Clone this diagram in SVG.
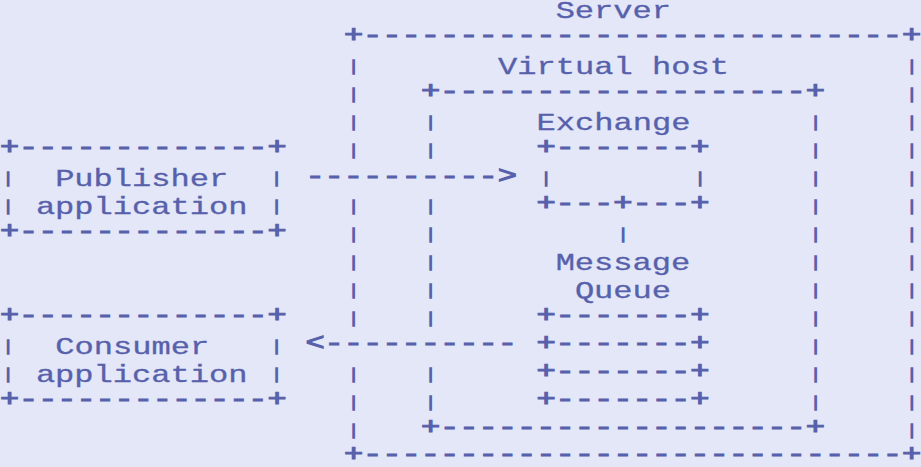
<svg xmlns="http://www.w3.org/2000/svg" width="921" height="467" viewBox="0 0 921 467">
<style>
text { font-family: "Liberation Mono", "DejaVu Sans Mono", monospace; font-size: 24px; fill: #5761AB; stroke: #5761AB; stroke-width: 0.3px; }
.b { stroke-width: 1.1px; }
.p { font-size: 14.5px; stroke-width: 1.5px; text-anchor: middle; }
</style>
<rect width="921" height="467" fill="#E3E7F8"/>
<g id="server">
<text x="555.625" y="17.5" textLength="115.5" lengthAdjust="spacingAndGlyphs">Server</text>
<text class="b" x="343.875" y="42" textLength="577.5" lengthAdjust="spacingAndGlyphs">+----------------------------+</text>
<text class="b" x="343.875" y="461" textLength="577.5" lengthAdjust="spacingAndGlyphs">+----------------------------+</text>
<text class="p" x="353.5" y="70.5">|</text><text class="p" x="911.75" y="70.5">|</text>
<text class="p" x="353.5" y="98.5">|</text><text class="p" x="911.75" y="98.5">|</text>
<text class="p" x="353.5" y="126.5">|</text><text class="p" x="911.75" y="126.5">|</text>
<text class="p" x="353.5" y="154.5">|</text><text class="p" x="911.75" y="154.5">|</text>
<text class="p" x="911.75" y="182.5">|</text>
<text class="p" x="353.5" y="210.5">|</text><text class="p" x="911.75" y="210.5">|</text>
<text class="p" x="353.5" y="238.5">|</text><text class="p" x="911.75" y="238.5">|</text>
<text class="p" x="353.5" y="266.5">|</text><text class="p" x="911.75" y="266.5">|</text>
<text class="p" x="353.5" y="294.5">|</text><text class="p" x="911.75" y="294.5">|</text>
<text class="p" x="353.5" y="322.5">|</text><text class="p" x="911.75" y="322.5">|</text>
<text class="p" x="911.75" y="350.5">|</text>
<text class="p" x="353.5" y="378.5">|</text><text class="p" x="911.75" y="378.5">|</text>
<text class="p" x="353.5" y="406.5">|</text><text class="p" x="911.75" y="406.5">|</text>
<text class="p" x="353.5" y="434.5">|</text><text class="p" x="911.75" y="434.5">|</text>
</g>
<g id="virtual-host">
<text x="497.875" y="73.5" textLength="231" lengthAdjust="spacingAndGlyphs">Virtual host</text>
<text class="b" x="420.875" y="98" textLength="404.25" lengthAdjust="spacingAndGlyphs">+-------------------+</text>
<text class="b" x="420.875" y="434" textLength="404.25" lengthAdjust="spacingAndGlyphs">+-------------------+</text>
<text class="p" x="430.5" y="126.5">|</text><text class="p" x="815.5" y="126.5">|</text>
<text class="p" x="430.5" y="154.5">|</text><text class="p" x="815.5" y="154.5">|</text>
<text class="p" x="815.5" y="182.5">|</text>
<text class="p" x="430.5" y="210.5">|</text><text class="p" x="815.5" y="210.5">|</text>
<text class="p" x="430.5" y="238.5">|</text><text class="p" x="815.5" y="238.5">|</text>
<text class="p" x="430.5" y="266.5">|</text><text class="p" x="815.5" y="266.5">|</text>
<text class="p" x="430.5" y="294.5">|</text><text class="p" x="815.5" y="294.5">|</text>
<text class="p" x="430.5" y="322.5">|</text><text class="p" x="815.5" y="322.5">|</text>
<text class="p" x="815.5" y="350.5">|</text>
<text class="p" x="430.5" y="378.5">|</text><text class="p" x="815.5" y="378.5">|</text>
<text class="p" x="430.5" y="406.5">|</text><text class="p" x="815.5" y="406.5">|</text>
</g>
<g id="exchange">
<text x="536.375" y="129.5" textLength="154" lengthAdjust="spacingAndGlyphs">Exchange</text>
<text class="b" x="536.375" y="154" textLength="173.25" lengthAdjust="spacingAndGlyphs">+-------+</text>
<text class="p" x="546" y="182.5">|</text><text class="p" x="700" y="182.5">|</text>
<text class="b" x="536.375" y="210" textLength="173.25" lengthAdjust="spacingAndGlyphs">+---+---+</text>
</g>
<g id="message-queue">
<text x="555.625" y="269.5" textLength="134.75" lengthAdjust="spacingAndGlyphs">Message</text>
<text x="574.875" y="297.5" textLength="96.25" lengthAdjust="spacingAndGlyphs">Queue</text>
<text class="b" x="536.375" y="322" textLength="173.25" lengthAdjust="spacingAndGlyphs">+-------+</text>
<text class="b" x="536.375" y="350" textLength="173.25" lengthAdjust="spacingAndGlyphs">+-------+</text>
<text class="b" x="536.375" y="378" textLength="173.25" lengthAdjust="spacingAndGlyphs">+-------+</text>
<text class="b" x="536.375" y="406" textLength="173.25" lengthAdjust="spacingAndGlyphs">+-------+</text>
</g>
<g id="publisher">
<text class="b" x="0" y="154" textLength="286.5" lengthAdjust="spacingAndGlyphs">+-------------+</text>
<text class="p" x="8" y="182.5">|</text><text class="p" x="276.5" y="182.5">|</text>
<text x="55.125" y="185.5" textLength="173.25" lengthAdjust="spacingAndGlyphs">Publisher</text>
<text class="p" x="8" y="210.5">|</text><text class="p" x="276.5" y="210.5">|</text>
<text x="35.875" y="213.5" textLength="211.75" lengthAdjust="spacingAndGlyphs">application</text>
<text class="b" x="0" y="238" textLength="286.5" lengthAdjust="spacingAndGlyphs">+-------------+</text>
</g>
<g id="consumer">
<text class="b" x="0" y="322" textLength="286.5" lengthAdjust="spacingAndGlyphs">+-------------+</text>
<text class="p" x="8" y="350.5">|</text><text class="p" x="276.5" y="350.5">|</text>
<text x="55.125" y="353.5" textLength="154" lengthAdjust="spacingAndGlyphs">Consumer</text>
<text class="p" x="8" y="378.5">|</text><text class="p" x="276.5" y="378.5">|</text>
<text x="35.875" y="381.5" textLength="211.75" lengthAdjust="spacingAndGlyphs">application</text>
<text class="b" x="0" y="406" textLength="286.5" lengthAdjust="spacingAndGlyphs">+-------------+</text>
</g>
<g id="connectors">
<text class="b" x="305.375" y="183" textLength="211.75" lengthAdjust="spacingAndGlyphs">----------&gt;</text>
<text class="p" x="623" y="238.5">|</text>
<text class="b" x="305.375" y="350" textLength="211.75" lengthAdjust="spacingAndGlyphs">&lt;----------</text>
</g>
</svg>
